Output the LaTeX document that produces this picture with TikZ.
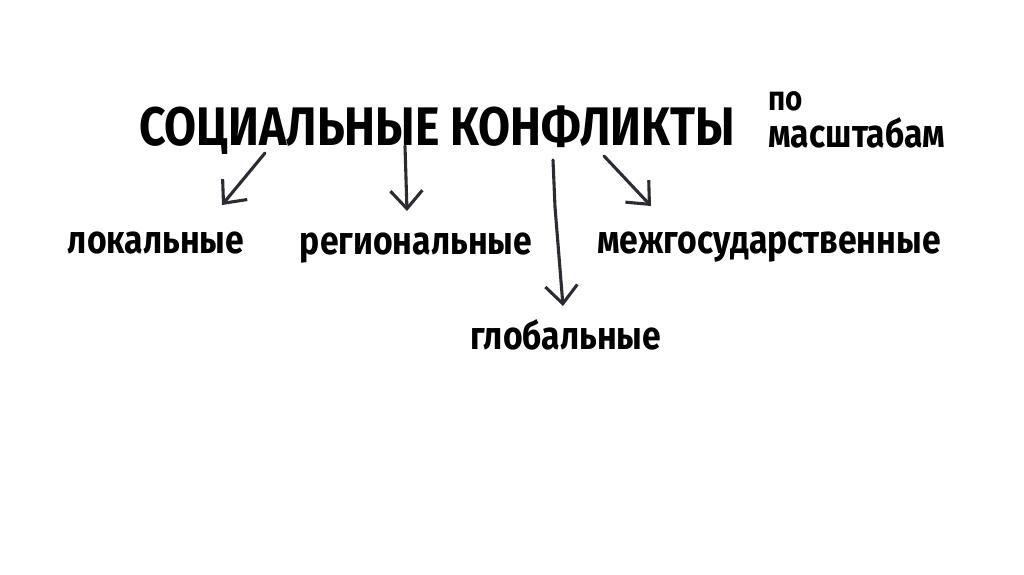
\documentclass[tikz,border=0pt]{standalone}
\usepackage{fontspec}
\setmainfont{Fira Sans}
\usepackage{tikz}
\usetikzlibrary{arrows.meta, calc}

\newcommand{\tallbox}[1]{\scalebox{1}[1.17]{#1}}

\tikzset{
  bigtxt/.style={font=\bfseries\fontsize{33}{36}\selectfont, inner sep=0pt},
  smalltxt/.style={font=\bfseries\fontsize{24}{28}\selectfont, inner sep=0pt},
  arr/.style={draw=arrgray, line width=2.2pt, line cap=round, line join=round,
    -{Straight Barb[length=4.5mm, width=8mm, line width=2.2pt]}}
}
\definecolor{arrgray}{HTML}{2B2B33}

\begin{document}
\begin{tikzpicture}
\begin{scope}[x=0.025cm, y=-0.025cm]

\useasboundingbox[fill=white] (0,0) rectangle (1024,574);

%---title---

\node[bigtxt, anchor=base] (title) at (437,145) {\tallbox{СОЦИАЛЬНЫЕ КОНФЛИКТЫ}};
\node[smalltxt, anchor=base west, font=\bfseries\fontsize{21}{24}\selectfont] (po) at (768,110) {\tallbox{по}};
\node[smalltxt, anchor=base west] (scale) at (768,147) {\tallbox{масштабам}};

%---kinds---

\node[smalltxt, anchor=base] (local) at (156,253) {\tallbox{локальные}};
\node[smalltxt, anchor=base] (region) at (416,254) {\tallbox{региональные}};
\node[smalltxt, anchor=base] (inter) at (769,253) {\tallbox{межгосударственные}};
\node[smalltxt, anchor=base] (global) at (566,349) {\tallbox{глобальные}};

%---arrows---

\coordinate (s1) at (265,153);
\coordinate (e1) at (222,205);
\coordinate (s2) at (405,146);
\coordinate (e2) at (407,211);
\coordinate (s3) at (553,160);
\coordinate (k3) at (555,207);
\coordinate (e3) at (563,306);
\coordinate (s4) at (604,156);
\coordinate (e4) at (651,206);

\draw[arr] (s1) -- (e1);
\draw[arr] (s2) -- (e2);
\draw[arr] (s3) -- (k3) -- (e3);
\draw[arr] (s4) -- (e4);

\end{scope}
\end{tikzpicture}
\end{document}
